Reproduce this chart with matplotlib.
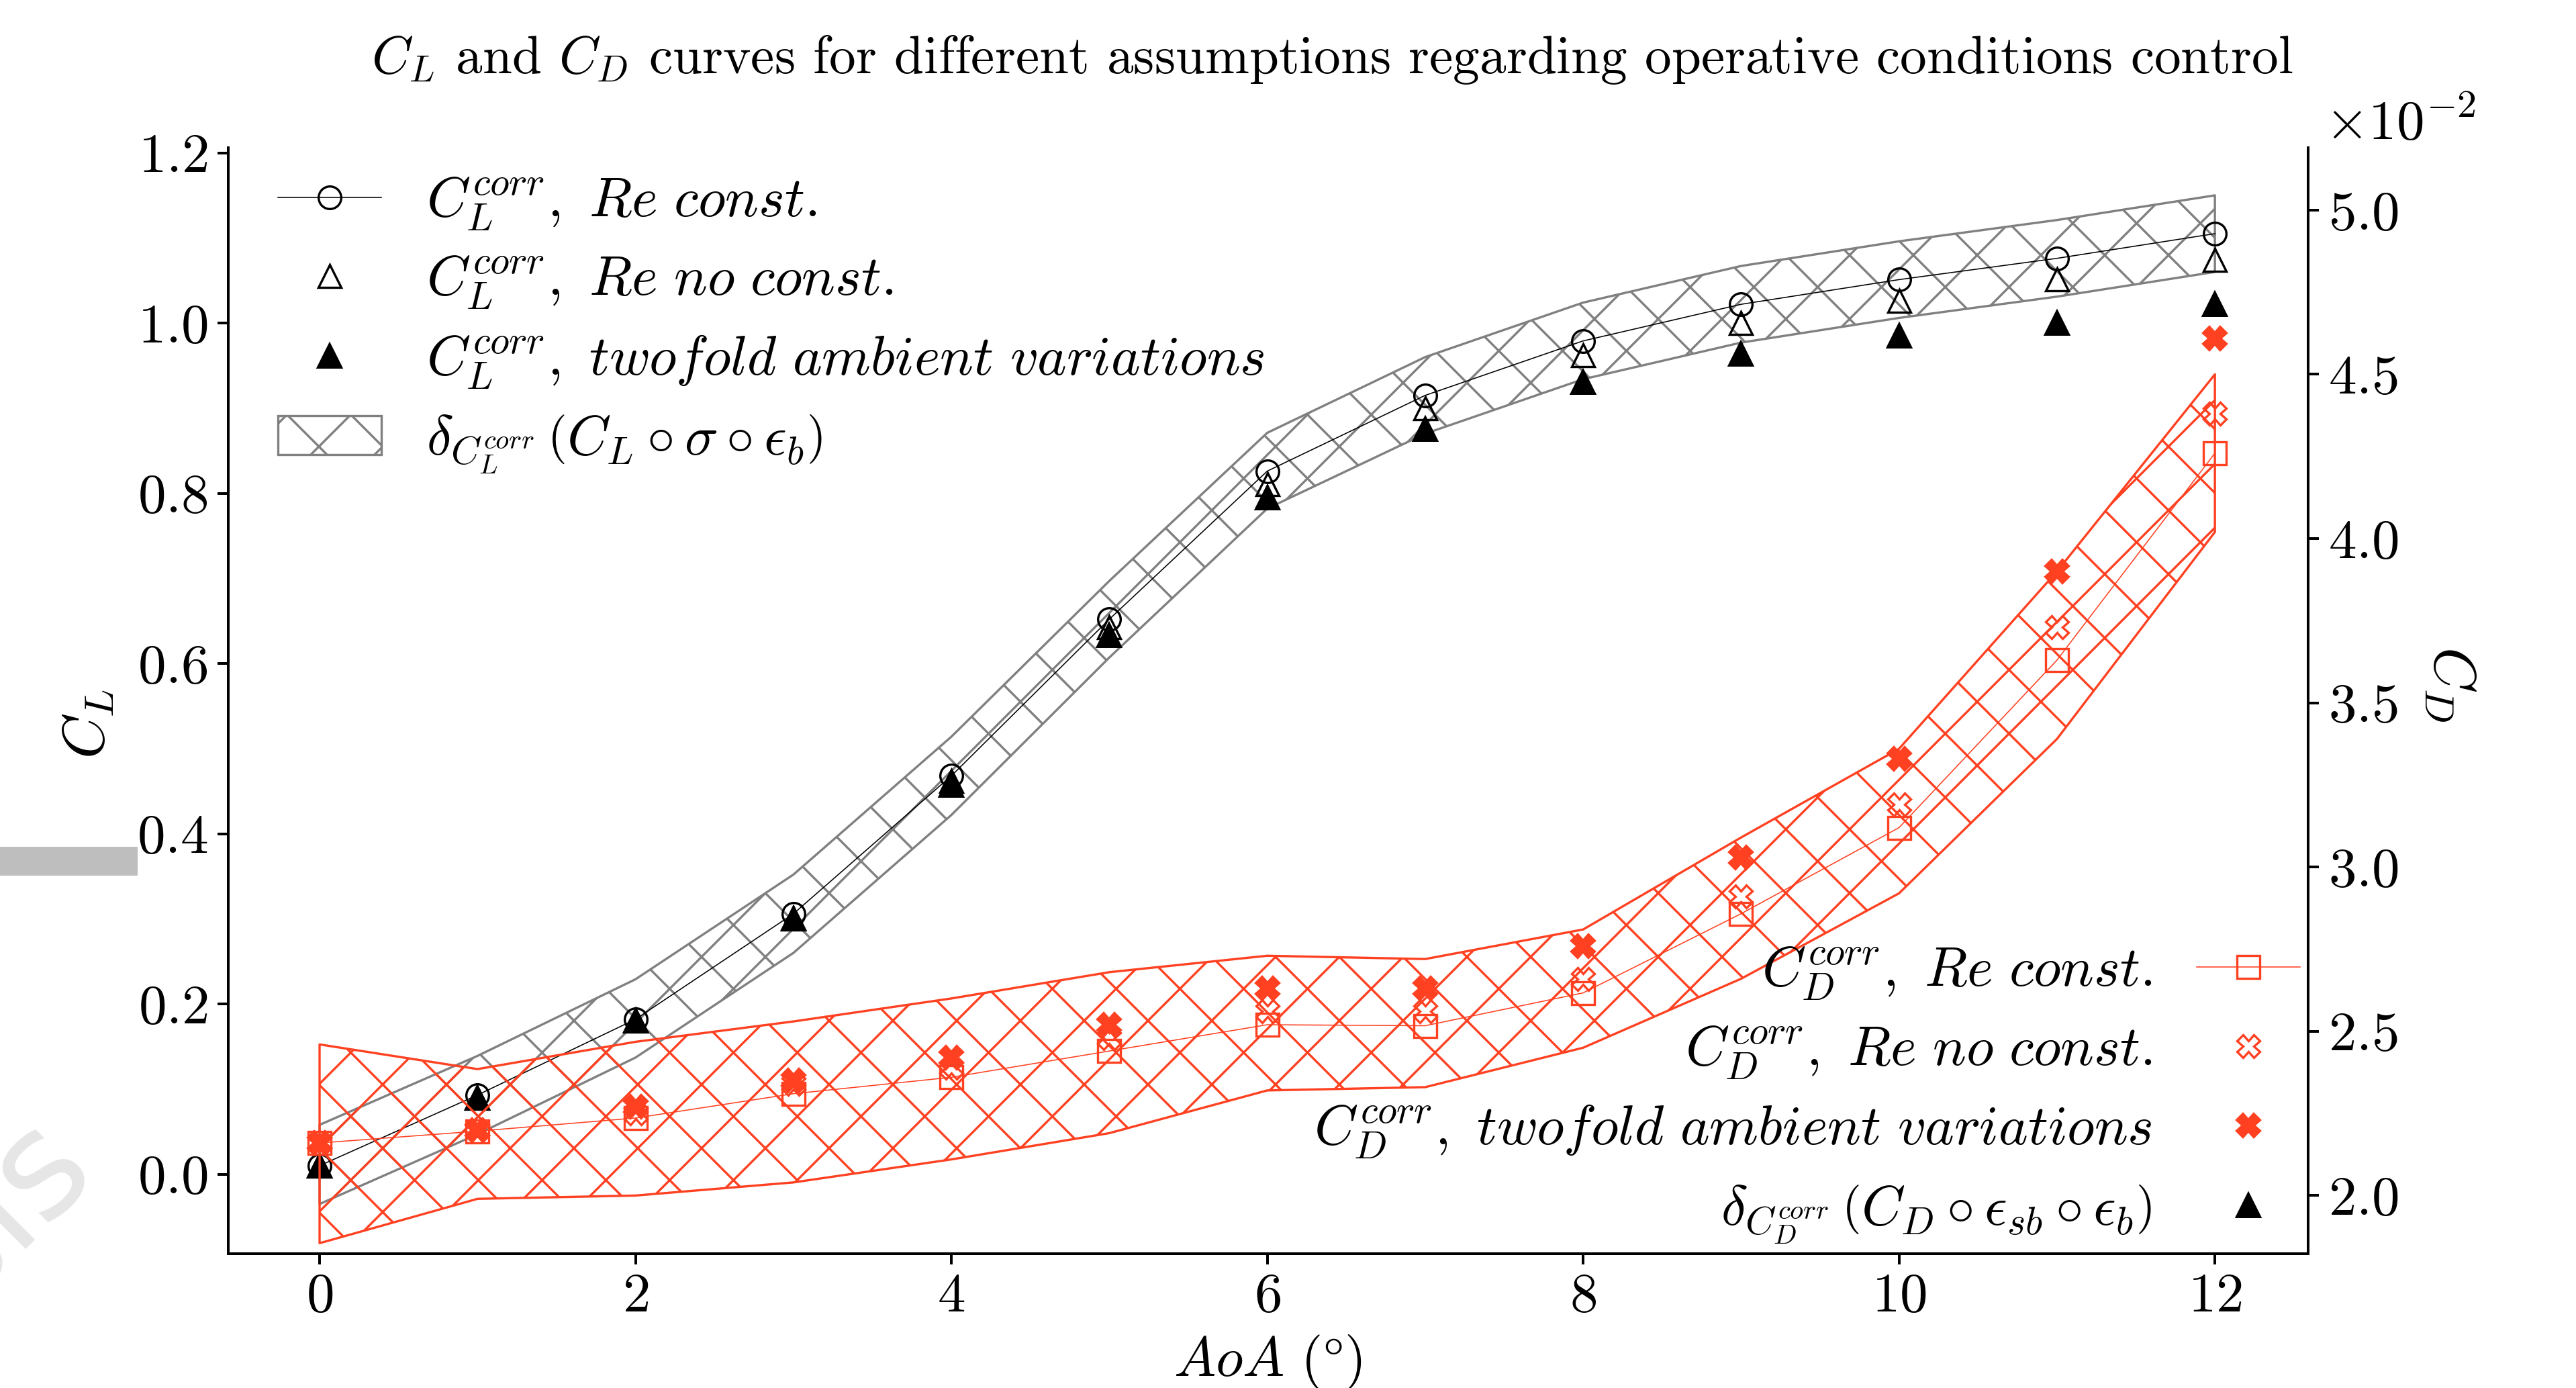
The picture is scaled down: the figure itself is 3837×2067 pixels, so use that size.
import matplotlib
matplotlib.use('Agg')
import matplotlib.pyplot as plt
import matplotlib.patches as mpatches

plt.rcParams['font.family'] = 'serif'
plt.rcParams['font.serif'] = ['cmr10']
plt.rcParams['mathtext.fontset'] = 'cm'
plt.rcParams['axes.formatter.use_mathtext'] = True
plt.rcParams['hatch.linewidth'] = 0.85

aoa = [0, 1, 2, 3, 4, 5, 6, 7, 8, 9, 10, 11, 12]

# lift coefficient
cl_re_const = [0.010, 0.093, 0.182, 0.306, 0.468, 0.652, 0.826, 0.915, 0.979, 1.022, 1.051, 1.076, 1.105]
cl_re_var = [0.010, 0.090, 0.180, 0.300, 0.462, 0.643, 0.811, 0.900, 0.962, 1.000, 1.026, 1.051, 1.074]
cl_twofold = [0.010, 0.090, 0.180, 0.300, 0.457, 0.633, 0.795, 0.875, 0.931, 0.964, 0.985, 1.000, 1.022]
cl_upper = [0.058, 0.139, 0.229, 0.352, 0.514, 0.697, 0.871, 0.960, 1.024, 1.067, 1.096, 1.121, 1.150]
cl_lower = [-0.035, 0.047, 0.137, 0.260, 0.422, 0.607, 0.782, 0.870, 0.934, 0.977, 1.006, 1.031, 1.060]

# drag coefficient (x1e-2)
cd_re_const = [2.16, 2.196, 2.236, 2.31, 2.36, 2.44, 2.52, 2.517, 2.617, 2.858, 3.12, 3.63, 4.26]
cd_re_var = [2.16, 2.20, 2.25, 2.34, 2.39, 2.48, 2.56, 2.56, 2.66, 2.91, 3.19, 3.73, 4.38]
cd_twofold = [2.16, 2.20, 2.27, 2.35, 2.42, 2.52, 2.63, 2.63, 2.76, 3.03, 3.33, 3.90, 4.61]
cd_upper = [2.46, 2.385, 2.468, 2.53, 2.60, 2.68, 2.73, 2.72, 2.81, 3.09, 3.36, 3.90, 4.50]
cd_lower = [1.855, 1.99, 2.0, 2.04, 2.11, 2.19, 2.32, 2.33, 2.45, 2.66, 2.92, 3.39, 4.02]

red = '#ff4122'
fs = 21

fig = plt.figure(figsize=(3837 / 285, 2067 / 285), dpi=285)
ax1 = fig.add_axes([0.0885, 0.097, 0.8075, 0.7966])
ax2 = ax1.twinx()

band1 = ax1.fill_between(aoa, cl_lower, cl_upper, facecolor='none', edgecolor='gray',
                         hatch='x', linewidth=0.85)
l1, = ax1.plot(aoa, cl_re_const, color='k', lw=0.4, marker='o', ms=8.5, mfc='none', mew=0.85)
l2, = ax1.plot(aoa, cl_re_var, ls='none', marker='^', ms=8.5, mfc='none', mec='k', mew=0.85)
l3, = ax1.plot(aoa, cl_twofold, ls='none', marker='^', ms=8.5, color='k')

cd_scale = 1e-2
band2 = ax2.fill_between(aoa, [v * cd_scale for v in cd_lower], [v * cd_scale for v in cd_upper],
                         facecolor='none', edgecolor=red, hatch='x', linewidth=0.85)
d1, = ax2.plot(aoa, [v * cd_scale for v in cd_re_const], color=red, lw=0.4, marker='s', ms=8.5,
               mfc='none', mew=0.85)
d2, = ax2.plot(aoa, [v * cd_scale for v in cd_re_var], ls='none', marker='X', ms=8.5, mfc='none',
               mec=red, mew=0.85)
d3, = ax2.plot(aoa, [v * cd_scale for v in cd_twofold], ls='none', marker='X', ms=8.5, color=red)

ax1.set_xlim(-0.58, 12.59)
ax1.set_ylim(-0.093, 1.206)
ax2.set_ylim(0.01824, 0.0519)
ax1.set_xticks([0, 2, 4, 6, 8, 10, 12])
ax1.set_yticks([0.0, 0.2, 0.4, 0.6, 0.8, 1.0, 1.2])
ax2.set_yticks([0.020, 0.025, 0.030, 0.035, 0.040, 0.045, 0.050])
ax2.ticklabel_format(axis='y', style='sci', scilimits=(-2, -2), useMathText=True)

for ax in (ax1, ax2):
    ax.spines['top'].set_visible(False)
    for s in ('left', 'right', 'bottom'):
        ax.spines[s].set_linewidth(1.0)
    ax.tick_params(labelsize=fs, width=1.0, length=4)
off = ax2.yaxis.get_offset_text()
off.set_fontsize(fs)
off.set_ha('left')
off.set_x(1.008)

ax1.set_xlabel(r'$AoA\ (\degree)$', fontsize=fs)
ax1.set_ylabel(r'$C_L$', fontsize=fs + 1)
ax1.yaxis.set_label_coords(-0.054, 0.479)
ax2.set_ylabel(r'$C_D$', fontsize=fs + 1, rotation=270, va='bottom')
ax2.yaxis.set_label_coords(1.055, 0.515)

ax1.legend([l1, l2, l3, band1],
           [r'$C_L^{corr},\ Re\ const.$', r'$C_L^{corr},\ Re\ no\ const.$',
            r'$C_L^{corr},\ twofold\ ambient\ variations$',
            r'$\delta_{C_L^{corr}}\,\left(C_L\circ\sigma\circ\epsilon_b\right)$'],
           loc='upper left', bbox_to_anchor=(0.0, 1.02), frameon=False, fontsize=fs,
           labelspacing=0.4, handlelength=1.85)
ax2.legend([d1, d2, d3, l3],
           [r'$C_D^{corr},\ Re\ const.$', r'$C_D^{corr},\ Re\ no\ const.$',
            r'$C_D^{corr},\ twofold\ ambient\ variations$',
            r'$\delta_{C_D^{corr}}\,\left(C_D\circ\epsilon_{sb}\circ\epsilon_b\right)$'],
           loc='lower right', bbox_to_anchor=(1.0095, -0.018), borderaxespad=0.1, frameon=False,
           markerfirst=False, fontsize=fs, labelspacing=0.4, handlelength=1.85)

fig.text(0.517, 0.957, r'$C_L$ and $C_D$ curves for different assumptions regarding operative conditions control',
         ha='center', va='center', fontsize=20)

# screenshot artefacts at the left border
fig.patches.append(mpatches.Rectangle((0, 0.369), 0.0535, 0.021, transform=fig.transFigure,
                                      color='#bebebe', lw=0))
fig.text(0.0375, 0.157, 'sis', rotation=45, rotation_mode='anchor', color='#e6e6e6', fontsize=55,
         family='DejaVu Sans', ha='right', va='baseline', zorder=0)

fig.savefig('out.png', dpi=285)
